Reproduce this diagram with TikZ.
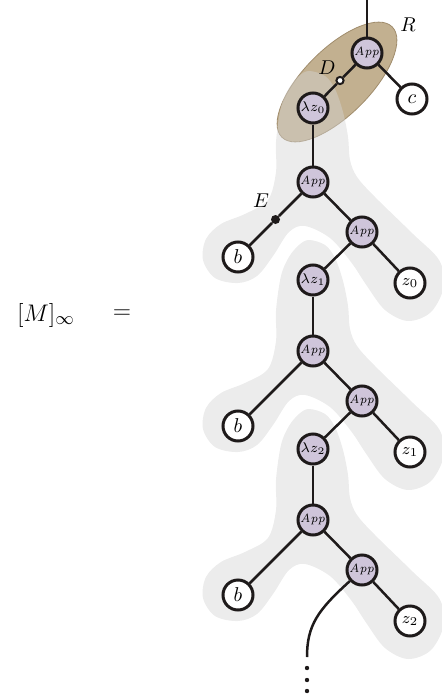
\documentclass[tikz,border=0pt]{standalone}
\definecolor{lav}{RGB}{207,197,218}
\definecolor{ink}{RGB}{30,26,26}
\definecolor{tanfill}{RGB}{194,176,144}
\definecolor{tanline}{RGB}{160,140,108}
\definecolor{blobgrey}{RGB}{212,212,212}
\tikzset{
  app/.style={circle, draw=ink, fill=lav, line width=1.5pt, minimum size=15pt, inner sep=0pt},
  var/.style={circle, draw=ink, fill=white, line width=1.5pt, minimum size=15pt, inner sep=0pt},
  wire/.style={draw=ink, line width=1.25pt},
  blob/.style={fill=blobgrey, fill opacity=0.45},
  lbl/.style={font=\normalsize},
  bigdot/.style={circle, fill=ink, minimum size=4.5pt, inner sep=0pt},
  opendot/.style={circle, draw=ink, fill=white, line width=1pt, minimum size=3.6pt, inner sep=0pt},
  tinydot/.style={circle, fill=ink, minimum size=2.2pt, inner sep=0pt}
}
\newcommand{\appl}{\fontsize{5.8}{6}\selectfont$\mathit{App}$}
\newcommand{\greyblob}[1]{%
  \fill[blob, shift={(313,#1)}] plot[smooth cycle, tension=0.55] coordinates {
    (-4,-111) (12,-106) (22,-93) (30,-70) (35,-45) (37,-22) (44,-5) (62,15) (100,52) (126,78)
    (131,104) (118,130) (95,139) (72,128) (54,104) (38,80) (17,56) (-8,44)
    (-24,50) (-40,74) (-56,94) (-75,101) (-98,96) (-110,78) (-107,57) (-92,42)
    (-68,32) (-45,18) (-37,-10) (-37,-40) (-32,-75) (-24,-94) (-14,-106)};}
\begin{document}
\begin{tikzpicture}[x=0.5pt, y=-0.5pt]
\useasboundingbox (0,0) rectangle (442,696);
% region R
\path[fill=tanfill, draw=tanline, line width=0.4pt] (337,82) ellipse [x radius=78, y radius=33, rotate=45];
% grey blobs
\greyblob{182}
\greyblob{351}
\greyblob{520}
% left formula
\node (lhs) at (46,315) {\fontsize{13}{15}\selectfont $[M]_\infty$};
\node (eq) at (122,314) {\fontsize{13}{15}\selectfont $=$};
% nodes
\coordinate (top) at (367,0);
\node[app] (A0) at (367,53) {\appl};
\node[var] (c) at (412,99) {$c$};
\node[app] (L0) at (313,108) {\scriptsize$\lambda z_0$};
\node[opendot] (D) at (340,80.5) {};
% level 0
\node[app] (A1) at (313,182) {\appl};
\node[var] (b1) at (238,257) {$b$};
\node[bigdot] (E) at (275.5,219.5) {};
\node[app] (B1) at (362,232) {\appl};
\node[var] (z0) at (410,283) {\footnotesize$z_0$};
\node[app] (L1) at (313,280) {\scriptsize$\lambda z_1$};
% level 1
\node[app] (A2) at (313,351) {\appl};
\node[var] (b2) at (238,426) {$b$};
\node[app] (B2) at (362,401) {\appl};
\node[var] (z1) at (410,452) {\footnotesize$z_1$};
\node[app] (L2) at (313,449) {\scriptsize$\lambda z_2$};
% level 2
\node[app] (A3) at (313,520) {\appl};
\node[var] (b3) at (238,595) {$b$};
\node[app] (B3) at (362,570) {\appl};
\node[var] (z2) at (410,621) {\footnotesize$z_2$};
\coordinate (tail) at (307,657);
\node[tinydot] (d1) at (307,668) {};
\node[tinydot] (d2) at (307,680) {};
\node[tinydot] (d3) at (307,691) {};
% labels
\node[lbl] (lR) at (408,25) {$R$};
\node[lbl] (lD) at (327,68) {$D$};
\node[lbl] (lE) at (261,201) {$E$};
% connectors
\draw[wire] (top) -- (A0);
\draw[wire] (A0) -- (D) -- (L0);
\draw[wire] (A0) -- (c);
\draw[wire] (L0) -- (A1);
\draw[wire] (A1) -- (E) -- (b1);
\draw[wire] (A1) -- (B1);
\draw[wire] (B1) -- (z0);
\draw[wire] (B1) -- (L1);
\draw[wire] (L1) -- (A2);
\draw[wire] (A2) -- (b2);
\draw[wire] (A2) -- (B2);
\draw[wire] (B2) -- (z1);
\draw[wire] (B2) -- (L2);
\draw[wire] (L2) -- (A3);
\draw[wire] (A3) -- (b3);
\draw[wire] (A3) -- (B3);
\draw[wire] (B3) -- (z2);
\draw[wire] (B3) .. controls (318,610) and (307,625) .. (tail);
\end{tikzpicture}
\end{document}
